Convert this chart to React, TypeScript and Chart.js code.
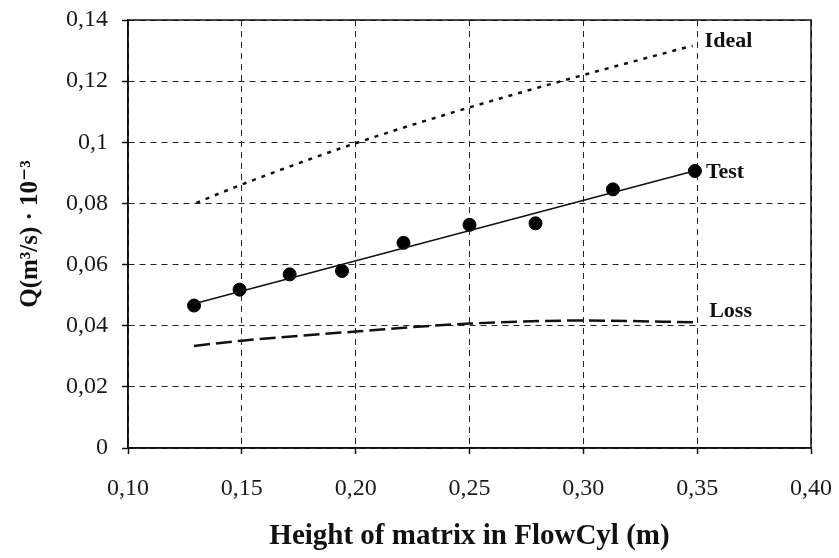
import React, { useEffect, useRef } from "react";
import { Chart, registerables } from "chart.js";

Chart.register(...registerables);

// Measured test points
const testX = [0.129, 0.149, 0.171, 0.194, 0.221, 0.250, 0.279, 0.313, 0.349];
const testY = [0.0466, 0.0518, 0.0568, 0.0579, 0.0671, 0.0730, 0.0735, 0.0846, 0.0906];
// Fitted test line
const fitX = [0.129, 0.349];
const fitY = [0.0472, 0.0907];
// Ideal curve
const idealX = [0.130, 0.150, 0.200, 0.250, 0.300, 0.348];
const idealY = [0.0802, 0.0862, 0.0997, 0.1114, 0.1220, 0.1316];
// Loss curve
const lossX = [0.129, 0.150, 0.200, 0.250, 0.300, 0.350];
const lossY = [0.0334, 0.0351, 0.0381, 0.0407, 0.0417, 0.0411];

const xTitle = "Height of matrix in FlowCyl (m)";
const yTitle = "Q(m³/s) · 10⁻³";
const seriesLabels = ["Ideal", "Test", "Loss"];

const FONT = "'Liberation Serif', 'DejaVu Serif', serif";

const zip = (xs: number[], ys: number[]) => xs.map((x, i) => ({ x, y: ys[i] }));

const framePlugin = {
  id: "frame",
  afterDraw(chart: any) {
    const { ctx, chartArea: a } = chart;
    ctx.save();
    ctx.strokeStyle = "#111";
    ctx.lineWidth = 1.5;
    ctx.setLineDash([]);
    ctx.strokeRect(a.left, a.top, a.right - a.left, a.bottom - a.top);
    ctx.restore();
  },
};

const labelPlugin = {
  id: "endLabels",
  afterDatasetsDraw(chart: any) {
    const { ctx } = chart;
    ctx.save();
    ctx.font = `bold 22px ${FONT}`;
    ctx.fillStyle = "#111";
    ctx.textAlign = "left";
    ctx.textBaseline = "middle";
    chart.data.datasets.forEach((ds: any, i: number) => {
      if (!ds.endLabel) return;
      const meta = chart.getDatasetMeta(i);
      const pt = meta.data[meta.data.length - 1];
      if (!pt) return;
      ctx.fillText(ds.endLabel, pt.x + ds.labelDx, pt.y + ds.labelDy);
    });
    ctx.restore();
  },
};

export default function App() {
  const ref = useRef<HTMLCanvasElement | null>(null);

  useEffect(() => {
    if (!ref.current) return;
    const chart = new Chart(ref.current, {
      type: "scatter",
      data: {
        datasets: [
          {
            label: "Ideal",
            data: zip(idealX, idealY),
            showLine: true,
            borderColor: "#111",
            borderWidth: 2.5,
            borderDash: [4, 6],
            pointRadius: 0,
            cubicInterpolationMode: "monotone",
            endLabel: seriesLabels[0],
            labelDx: 12,
            labelDy: -4,
          } as any,
          {
            label: "Fit",
            data: zip(fitX, fitY),
            showLine: true,
            borderColor: "#111",
            borderWidth: 1.5,
            pointRadius: 0,
          } as any,
          {
            label: "Test",
            data: zip(testX, testY),
            showLine: false,
            backgroundColor: "#000",
            borderColor: "#000",
            pointRadius: 6.5,
            endLabel: seriesLabels[1],
            labelDx: 11,
            labelDy: 1,
          } as any,
          {
            label: "Loss",
            data: zip(lossX, lossY),
            showLine: true,
            borderColor: "#111",
            borderWidth: 2.5,
            borderDash: [16, 6],
            pointRadius: 0,
            cubicInterpolationMode: "monotone",
            endLabel: seriesLabels[2],
            labelDx: 12,
            labelDy: -11,
          } as any,
        ],
      },
      options: {
        responsive: false,
        animation: false,
        layout: { padding: { top: 20, right: 28, left: 0, bottom: 0 } },
        plugins: {
          legend: { display: false },
          tooltip: { enabled: false },
        },
        scales: {
          x: {
            type: "linear",
            min: 0.1,
            max: 0.4,
            afterFit: (s: any) => {
              s.height = 110;
              s.paddingLeft = 0;
              s.paddingRight = 0;
            },
            ticks: {
              stepSize: 0.05,
              color: "#1a1a1a",
              padding: 20,
              font: { family: FONT, size: 24 },
              callback: (v: any) => Number(v).toFixed(2).replace(".", ","),
            },
            grid: {
              color: "#222",
              lineWidth: 1,
              tickLength: 6,
              tickColor: "#111",
              tickWidth: 1.5,
            },
            border: { dash: [6, 5], color: "#111", width: 1.5 },
            title: {
              display: true,
              text: xTitle,
              color: "#111",
              font: { family: FONT, size: 29, weight: "bold" },
              padding: { top: 0, bottom: 4 },
            },
          },
          y: {
            type: "linear",
            min: 0,
            max: 0.14,
            afterFit: (s: any) => {
              s.width = 128;
              s.paddingTop = 0;
              s.paddingBottom = 0;
            },
            ticks: {
              stepSize: 0.02,
              color: "#1a1a1a",
              padding: 14,
              font: { family: FONT, size: 24 },
              callback: (v: any) => String(Math.round(Number(v) * 100) / 100).replace(".", ","),
            },
            grid: {
              color: "#222",
              lineWidth: 1,
              tickLength: 6,
              tickColor: "#111",
              tickWidth: 1.5,
            },
            border: { dash: [6, 5], color: "#111", width: 1.5 },
            title: {
              display: true,
              text: yTitle,
              color: "#111",
              font: { family: FONT, size: 25, weight: "bold" },
              padding: { top: 16, bottom: 0 },
            },
          },
        },
      } as any,
      plugins: [framePlugin, labelPlugin],
    });
    return () => chart.destroy();
  }, []);

  return (
    <div style={{ position: "fixed", left: 0, top: 0, width: 839, height: 558, background: "#fff" }}>
      <canvas ref={ref} width={839} height={558} style={{ display: "block" }} />
    </div>
  );
}
